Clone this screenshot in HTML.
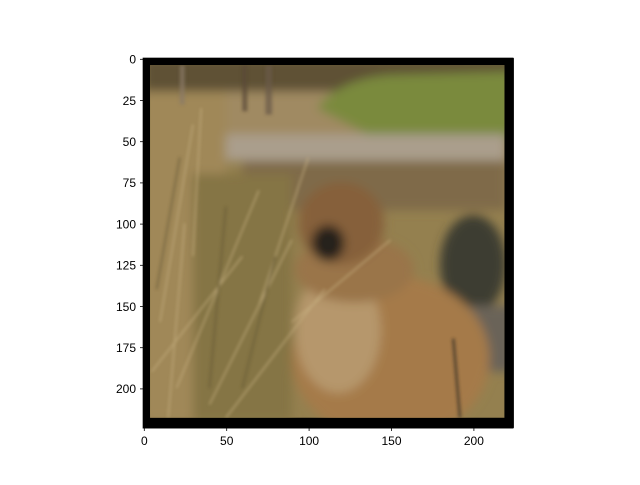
<!DOCTYPE html>
<html><head><meta charset="utf-8"><style>
body{margin:0;background:#fff;width:640px;height:480px;overflow:hidden;font-family:"Liberation Sans","DejaVu Sans",sans-serif}
</style></head><body>
<svg width="640" height="480" xmlns="http://www.w3.org/2000/svg">
<defs>
<filter id="bl" x="-20%" y="-20%" width="140%" height="140%"><feGaussianBlur stdDeviation="3"/></filter>
<filter id="bl2"><feGaussianBlur stdDeviation="1"/></filter>
<clipPath id="cp"><rect x="4" y="4" width="215" height="214"/></clipPath>
</defs>
<g id="img" transform="translate(143.5,58.5) scale(1.648)">
<rect x="-0.5" y="-0.5" width="225" height="225" fill="#000"/>
<g clip-path="url(#cp)">
<rect x="0" y="0" width="224" height="224" fill="#94804f"/>
<g filter="url(#bl)">
<rect x="0" y="0" width="224" height="22" fill="#5e5134"/>
<rect x="40" y="20" width="180" height="28" fill="#a08a62"/>
<path d="M105 30 Q120 12 150 10 L224 8 L224 50 L140 48 Z" fill="#7a8a3c"/>
<rect x="40" y="46" width="180" height="16" fill="#aa9e8c"/>
<rect x="60" y="62" width="160" height="30" fill="#7f6a4a"/>
<rect x="0" y="20" width="50" height="200" fill="#a08858"/>
<rect x="30" y="70" width="60" height="150" fill="#857444"/>
<ellipse cx="200" cy="125" rx="20" ry="30" fill="#3e3d32"/>
<rect x="195" y="150" width="30" height="40" fill="#6a6458"/>
<ellipse cx="150" cy="182" rx="60" ry="50" fill="#a57a48"/>
<ellipse cx="118" cy="165" rx="26" ry="38" fill="#b6976c"/>
<ellipse cx="128" cy="128" rx="36" ry="20" fill="#9a7448"/>
<ellipse cx="120" cy="100" rx="26" ry="25" fill="#86603a"/>
<ellipse cx="112" cy="112" rx="10" ry="11" fill="#26201c"/>
</g>
<g filter="url(#bl2)" fill="none" stroke-width="0.9" opacity="0.7">
<rect x="74" y="4" width="4" height="30" fill="#6a5a48" stroke="none"/>
<rect x="60" y="4" width="3" height="28" fill="#5a4a38" stroke="none"/>
<rect x="22" y="4" width="3" height="24" fill="#8a7a68" stroke="none"/>
<g stroke="#c8b283">
<path d="M5 190 L60 120"/><path d="M20 200 L70 80"/><path d="M40 210 L90 110"/>
<path d="M10 160 L30 40"/><path d="M50 218 L110 140"/><path d="M70 150 L100 60"/>
<path d="M30 120 L35 30"/><path d="M15 218 L25 100"/><path d="M90 160 L150 110"/>
</g>
<g stroke="#5f5332">
<path d="M40 200 L50 90"/><path d="M60 200 L80 120"/><path d="M8 140 L22 60"/>
</g>
<path d="M188 170 L192 218" stroke="#2a2622" stroke-width="1.5"/>
</g>
</g>
</g>
<rect x="143.5" y="58.5" width="370" height="369" fill="none" stroke="#000" stroke-width="0.8"/>
<g id="xt" font-size="12" fill="#000" text-anchor="middle"></g>
<g id="yt" font-size="12" fill="#000" text-anchor="end"></g>
</svg>
<script>
const xTicks=[0,50,100,150,200];
const yTicks=[0,25,50,75,100,125,150,175,200];
const ns="http://www.w3.org/2000/svg";
const sx=v=>144.3+v*1.648, sy=v=>59.3+v*1.648;
const xg=document.getElementById('xt'), yg=document.getElementById('yt');
xTicks.forEach(t=>{
 const l=document.createElementNS(ns,'line');
 
 
 l.setAttribute('x1',sx(t));l.setAttribute('x2',sx(t));l.setAttribute('y1',427.5);l.setAttribute('y2',431);l.setAttribute('stroke','#000');l.setAttribute('stroke-width','0.8');xg.appendChild(l);
 const s=document.createElementNS(ns,'text');
 
 
 s.setAttribute('x',sx(t));s.setAttribute('y',445);s.textContent=t;xg.appendChild(s);
});
yTicks.forEach(t=>{
 const l=document.createElementNS(ns,'line');
 
 
 l.setAttribute('x1',140);l.setAttribute('x2',143.5);l.setAttribute('y1',sy(t));l.setAttribute('y2',sy(t));l.setAttribute('stroke','#000');l.setAttribute('stroke-width','0.8');yg.appendChild(l);
 const s=document.createElementNS(ns,'text');
 
 
 s.setAttribute('x',136);s.setAttribute('y',sy(t)+4.3);s.textContent=t;yg.appendChild(s);
});
</script>
</body></html>
